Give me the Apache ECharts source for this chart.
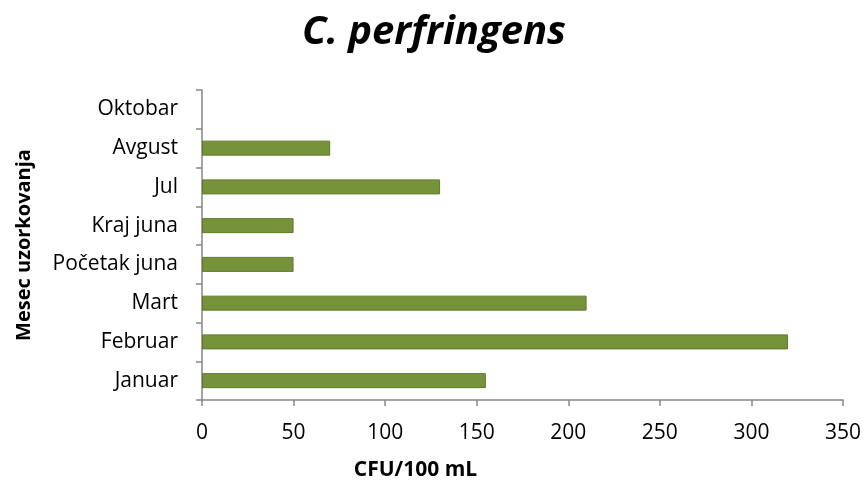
<!DOCTYPE html>
<html>
<head>
<meta charset="utf-8">
<script src="https://cdn.jsdelivr.net/npm/echarts@6/dist/echarts.min.js"></script>
<style>
  html, body { margin: 0; padding: 0; background: #fff; }
  #chart { width: 868px; height: 486px; }
</style>
</head>
<body>
<div id="chart"></div>
<script>
// Sampling months, bottom to top
const months = ['Januar', 'Februar', 'Mart', 'Početak juna', 'Kraj juna', 'Jul', 'Avgust', 'Oktobar'];
// C. perfringens counts, CFU/100 mL
const cfuValues = [155, 320, 210, 50, 50, 130, 70, 0];
const xTicks = [0, 50, 100, 150, 200, 250, 300, 350];

const FONT = '"Open Sans", "DejaVu Sans", sans-serif';
const axisGray = '#868686';
const barFill = '#76933C';
const barEdge = '#5F7A2C';

// zero-height bars get no outline so nothing shows for them
const barData = cfuValues.map(v => v === 0
  ? { value: v, itemStyle: { borderWidth: 0 } }
  : v);

const chart = echarts.init(document.getElementById('chart'), null, { renderer: 'canvas' });
chart.setOption({
  animation: false,
  backgroundColor: '#ffffff',
  title: {
    text: 'C. perfringens',
    left: 'center',
    top: 8,
    textStyle: {
      fontFamily: FONT,
      fontSize: 40,
      fontWeight: 'bold',
      fontStyle: 'italic',
      color: '#000'
    }
  },
  grid: { left: 202, right: 25, top: 90, bottom: 80, containLabel: false },
  xAxis: {
    type: 'value',
    min: xTicks[0],
    max: xTicks[xTicks.length - 1],
    interval: xTicks[1] - xTicks[0],
    name: 'CFU/100 mL',
    nameLocation: 'middle',
    nameGap: 60,
    nameTextStyle: {
      fontFamily: FONT, fontSize: 21, fontWeight: 'bold', color: '#000',
      padding: [0, 214, 0, 0]
    },
    axisLine: { show: true, lineStyle: { color: axisGray, width: 1.5 } },
    axisTick: { show: true, length: 6, lineStyle: { color: axisGray, width: 1.5 } },
    axisLabel: { fontFamily: FONT, fontSize: 21, color: '#000', margin: 23 },
    splitLine: { show: false }
  },
  yAxis: {
    type: 'category',
    data: months,
    name: 'Mesec uzorkovanja',
    nameLocation: 'middle',
    nameGap: 168,
    nameRotate: 90,
    nameTextStyle: { fontFamily: FONT, fontSize: 20, fontWeight: 'bold', color: '#000' },
    axisLine: { show: true, lineStyle: { color: axisGray, width: 1.5 } },
    axisTick: { show: true, length: 6, lineStyle: { color: axisGray, width: 1.5 } },
    axisLabel: { fontFamily: FONT, fontSize: 21, color: '#000', margin: 24 }
  },
  series: [{
    type: 'bar',
    data: barData,
    barWidth: 15,
    itemStyle: { color: barFill, borderColor: barEdge, borderWidth: 1 }
  }]
});
</script>
</body>
</html>
